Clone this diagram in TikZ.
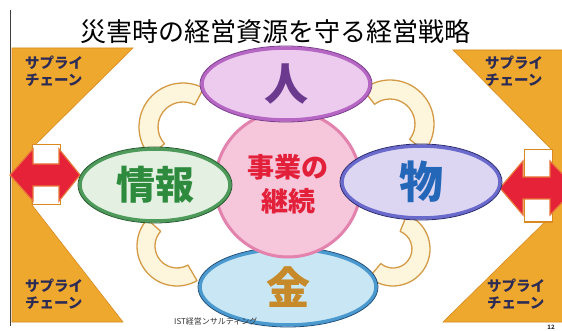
\documentclass[tikz,border=0pt]{standalone}
\usepackage{fontspec}
\newfontfamily\jp{Noto Sans CJK JP}
\usetikzlibrary{shapes.geometric}
\definecolor{orangeT}{HTML}{EFA82E}
\definecolor{orangeL}{HTML}{D88A20}
\definecolor{arrowR}{HTML}{E52238}
\definecolor{arrowL}{HTML}{E9763A}
\definecolor{cream}{HTML}{FDF6DD}
\definecolor{creamL}{HTML}{D49A45}
\definecolor{hitoF}{HTML}{EDCBEE}
\definecolor{hitoB}{HTML}{B667C4}
\definecolor{hitoD}{HTML}{7A3C8C}
\definecolor{hitoT}{HTML}{6B3A8E}
\definecolor{kinF}{HTML}{C9E6F5}
\definecolor{kinB}{HTML}{4A9AD0}
\definecolor{kinD}{HTML}{1F4E7A}
\definecolor{kinT}{HTML}{C68A2A}
\definecolor{joF}{HTML}{E3F0E2}
\definecolor{joB}{HTML}{4E9A5A}
\definecolor{joD}{HTML}{245A2E}
\definecolor{joT}{HTML}{2E8B3E}
\definecolor{buF}{HTML}{DCD6F3}
\definecolor{buB}{HTML}{6A6ACC}
\definecolor{buD}{HTML}{2A2A70}
\definecolor{buT}{HTML}{2466B8}
\definecolor{circF}{HTML}{F6C6DA}
\definecolor{circB}{HTML}{E482AE}
\definecolor{jigyoT}{HTML}{E3203A}
\definecolor{scT}{HTML}{2B2B55}
\begin{document}
\begin{tikzpicture}[x=1pt,y=-1pt,
  tri/.style={fill=orangeT, draw=orangeL, line width=0.6pt},
  gapbar/.style={fill=white, draw=orangeL, line width=1pt},
  dblarrow/.style={fill=arrowR, draw=arrowL, line width=1.2pt, line join=miter},
  band/.style={fill=cream, draw=creamL, line width=1.3pt, line join=round},
  sc/.style={font=\jp\bfseries\fontsize{14.5}{16.5}\selectfont, text=scT, align=left, inner sep=0, anchor=north west},
  res/.style={ellipse, inner sep=0, line width=3.5pt},
]
\useasboundingbox (0,0) rectangle (562,331);
\fill[white] (0,0) rectangle (562,331);
\begin{scope}
\clip (0,0) rectangle (562,331);
% slide border
\draw[black!75, line width=0.8pt] (10,10) -- (10,326);
% title
\node[font=\jp\fontsize{26}{28}\selectfont] (title) at (275,32) {災害時の経営資源を守る経営戦略};
% orange supply-chain triangles
\draw[tri] (12,48) -- (133,48) -- (32,148) -- (32,205) -- (123,322) -- (12,322) -- cycle;
\draw[tri] (566,50) -- (453,50) -- (552,150) -- (552,215) -- (443,322) -- (566,322) -- cycle;
% white bars behind arrows
\draw[gapbar] (32,145) rectangle (60,205);
\draw[gapbar] (524,150) rectangle (552,222);
% red double arrows
\draw[dblarrow] (10,175) -- (33,149) -- (33,164) -- (59,164) -- (59,149) -- (80,175)
  -- (59,201) -- (59,186) -- (33,186) -- (33,201) -- cycle;
\draw[dblarrow] (500,188) -- (523,161) -- (523,177) -- (550,177) -- (550,161) -- (576,188)
  -- (550,215) -- (550,199) -- (523,199) -- (523,215) -- cycle;
% supply chain labels
\node[sc] (scTL) at (25,56) {サプライ\\チェーン};
\node[sc] (scTR) at (485,56) {サプライ\\チェーン};
\node[sc] (scBL) at (25,279) {サプライ\\チェーン};
\node[sc] (scBR) at (487,279) {サプライ\\チェーン};
% connecting bands
\draw[band] ([shift={(-62:44)}]183,127) arc[start angle=-62, end angle=-222, radius=44]
  -- ([shift={(-222:25)}]183,127) arc[start angle=-222, end angle=-62, radius=25] -- cycle;
\draw[band] ([shift={(-128:44)}]390,124) arc[start angle=-128, end angle=38, radius=44]
  -- ([shift={(38:25)}]390,124) arc[start angle=38, end angle=-128, radius=25] -- cycle;
\draw[band] ([shift={(-138:40)}]177,246) arc[start angle=-138, end angle=-300, radius=40]
  -- ([shift={(-300:22)}]177,246) arc[start angle=-300, end angle=-138, radius=22] -- cycle;
\draw[band] ([shift={(-68:37)}]393,249) arc[start angle=-68, end angle=130, radius=37]
  -- ([shift={(130:19)}]393,249) arc[start angle=130, end angle=-68, radius=19] -- cycle;
% 金
\node[res, fill=kinF, draw=kinB, minimum width=176pt, minimum height=76pt,
  text=kinT, font=\jp\bfseries\fontsize{44}{44}\selectfont] (kin) at (288,287) {金};
\draw[kinD, line width=0.8pt] (kin.center) ellipse [x radius=90, y radius=40];
% core circle
\node[circle, fill=circF, draw=circB, line width=3pt, minimum size=146pt, inner sep=0] (core) at (288,184) {};
\node[font=\jp\bfseries\fontsize{27}{34}\selectfont, text=jigyoT, align=center] (coreText) at (core) {事業の\\継続};
% 人
\node[res, fill=hitoF, draw=hitoB, minimum width=168pt, minimum height=72pt,
  text=hitoT, font=\jp\bfseries\fontsize{44}{44}\selectfont] (hito) at (286,84) {人};
\draw[hitoD, line width=0.8pt] (hito.center) ellipse [x radius=86, y radius=38];
% 情報
\node[res, fill=joF, draw=joB, minimum width=150pt, minimum height=72pt,
  text=joT, font=\jp\bfseries\fontsize{39}{39}\selectfont] (joho) at (155,185) {情報};
\draw[joD, line width=0.8pt] (joho.center) ellipse [x radius=77, y radius=38];
% 物
\node[res, fill=buF, draw=buB, minimum width=158pt, minimum height=72pt,
  text=buT, font=\jp\bfseries\fontsize{44}{44}\selectfont] (mono) at (421,182) {物};
\draw[buD, line width=0.8pt] (mono.center) ellipse [x radius=81, y radius=38];
% footer
\node[font=\jp\fontsize{8}{8}\selectfont, anchor=west, text=black!80, inner sep=0] (footer) at (174,321) {IST経営ンサルティング};
\node[font=\jp\bfseries\fontsize{6}{6}\selectfont, text=black!80, inner sep=0] (pageno) at (551,327) {12};
\end{scope}
\end{tikzpicture}
\end{document}
